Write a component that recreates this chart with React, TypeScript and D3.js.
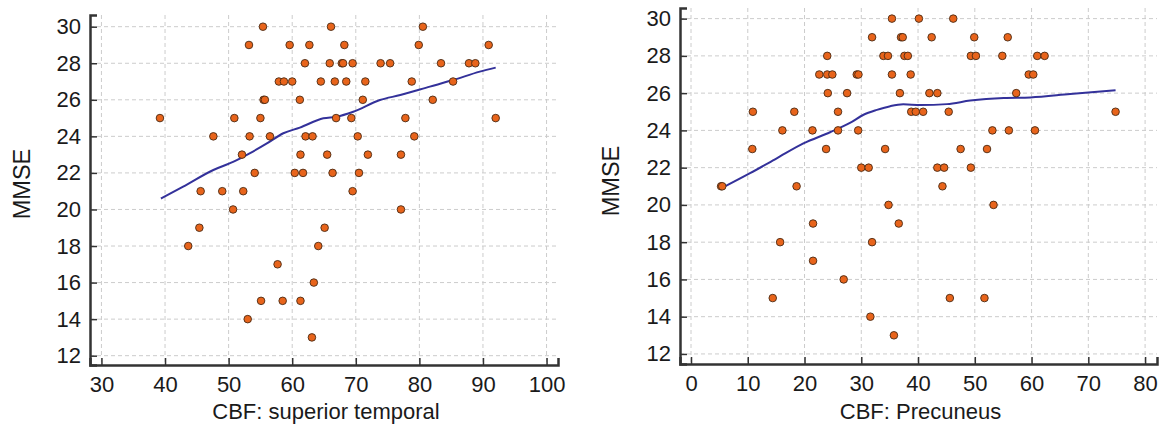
import React, { useEffect, useRef } from "react";
import * as d3 from "d3";

// superior temporal panel
const tempX = [39.2, 47.6, 45.6, 49.0, 52.3, 50.7, 50.9, 53.2, 55.4, 53.3, 52.1, 54.1, 55.0, 55.5, 55.7, 56.5, 57.9, 58.7, 60.0, 59.6, 60.4, 61.2, 61.3, 62.1, 63.2, 61.7, 62.7, 62.0, 66.1, 64.5, 65.9, 66.7, 67.8, 68.0, 68.2, 68.5, 69.5, 66.9, 69.3, 65.5, 66.35, 71.5, 71.1, 70.3, 71.9, 70.5, 69.5, 73.9, 75.4, 77.1, 77.1, 77.8, 79.2, 78.8, 79.9, 80.55, 82.1, 83.4, 85.3, 87.8, 88.8, 90.9, 92.0, 45.4, 43.65, 57.7, 55.1, 58.5, 61.3, 53.0, 65.1, 64.1, 63.4, 63.1];
const tempY = [25, 24, 21, 21, 21, 20, 25, 29, 30, 24, 23, 22, 25, 26, 26, 24, 27, 27, 27, 29, 22, 26, 23, 24, 24, 22, 29, 28, 30, 27, 28, 27, 28, 28, 29, 27, 28, 25, 25, 23, 22, 27, 26, 24, 23, 22, 21, 28, 28, 20, 23, 25, 24, 27, 29, 30, 26, 28, 27, 28, 28, 29, 25, 19, 18, 17, 15, 15, 15, 14, 19, 18, 16, 13];
const tempFitX = [39.35, 42.85, 47.6, 50.7, 53.3, 55.95, 58.6, 61.2, 64.9, 67.0, 69.6, 73.8, 77.0, 81.65, 85.3, 89.5, 92.0];
const tempFitY = [20.6, 21.25, 22.16, 22.6, 23.07, 23.6, 24.17, 24.48, 24.99, 25.08, 25.35, 25.99, 26.26, 26.72, 27.08, 27.54, 27.76];

// precuneus panel
const precX = [5.3, 5.5, 10.9, 10.8, 16.1, 18.2, 18.6, 21.4, 22.6, 24.0, 24.0, 24.9, 24.1, 23.8, 25.9, 25.9, 27.5, 29.2, 29.5, 29.45, 30.0, 31.3, 31.9, 33.9, 34.7, 34.2, 34.8, 35.4, 35.4, 40.15, 46.2, 37.0, 37.3, 42.4, 49.9, 55.8, 37.6, 38.2, 49.3, 50.2, 54.85, 61.0, 62.3, 38.7, 59.5, 60.3, 36.8, 42.0, 43.4, 57.3, 38.8, 39.6, 40.9, 45.4, 74.8, 53.1, 56.0, 60.6, 47.5, 52.15, 43.4, 44.6, 49.3, 44.3, 53.3, 21.5, 15.7, 31.9, 21.5, 26.9, 14.4, 31.6, 36.6, 45.6, 51.7, 35.75];
const precY = [21, 21, 25, 23, 24, 25, 21, 24, 27, 28, 27, 27, 26, 23, 25, 24, 26, 27, 27, 24, 22, 22, 29, 28, 28, 23, 20, 30, 27, 30, 30, 29, 29, 29, 29, 29, 28, 28, 28, 28, 28, 28, 28, 27, 27, 27, 26, 26, 26, 26, 25, 25, 25, 25, 25, 24, 24, 24, 23, 23, 22, 22, 22, 21, 20, 19, 18, 18, 17, 16, 15, 14, 19, 15, 15, 13];
const precFitX = [5.4, 10.4, 15.1, 19.8, 24.5, 28.0, 30.4, 32.75, 35.1, 37.4, 40.4, 45.1, 49.2, 55.1, 59.8, 66.8, 74.8];
const precFitY = [20.9, 21.7, 22.5, 23.3, 23.9, 24.4, 24.84, 25.1, 25.3, 25.4, 25.36, 25.41, 25.6, 25.74, 25.77, 25.95, 26.15];

const yMajor = [12, 14, 16, 18, 20, 22, 24, 26, 28, 30];
const yMinor = [13, 15, 17, 19, 21, 23, 25, 27, 29];
const tempMajor = [30, 40, 50, 60, 70, 80, 90, 100];
const tempMinor = [35, 45, 55, 65, 75, 85, 95];
const precMajor = [0, 10, 20, 30, 40, 50, 60, 70, 80];
const precMinor = [5, 15, 25, 35, 45, 55, 65, 75];

const FONT = "'Liberation Sans', Arial, sans-serif";

function drawPanel(svg, cfg) {
  const { left, right, top, bottom, xDomain, yDomain, xs, ys, fx, fy, major, minor, xLabel, yLabelX, yLabelY } = cfg;
  const x = d3.scaleLinear().domain(xDomain).range([left, right]);
  const y = d3.scaleLinear().domain(yDomain).range([bottom, top]);
  const g = svg.append("g");

  // grid
  g.append("g")
    .selectAll("line")
    .data(major)
    .join("line")
    .attr("x1", (d) => x(d))
    .attr("x2", (d) => x(d))
    .attr("y1", top)
    .attr("y2", bottom)
    .attr("stroke", "#cccccc")
    .attr("stroke-dasharray", "4,3");
  g.append("g")
    .selectAll("line")
    .data(yMajor)
    .join("line")
    .attr("x1", left)
    .attr("x2", right)
    .attr("y1", (d) => y(d))
    .attr("y2", (d) => y(d))
    .attr("stroke", "#cccccc")
    .attr("stroke-dasharray", "4,3");

  // axes, ticks pointing inward
  const xa = g.append("g").attr("transform", `translate(0,${bottom})`);
  xa.call(d3.axisBottom(x).tickValues(minor).tickSize(-4).tickFormat(() => ""));
  xa.call(d3.axisBottom(x).tickValues(major).tickSize(-7).tickPadding(11));
  const ya = g.append("g").attr("transform", `translate(${left},0)`);
  ya.call(d3.axisLeft(y).tickValues(yMinor).tickSize(-4).tickFormat(() => ""));
  ya.call(d3.axisLeft(y).tickValues(yMajor).tickSize(-7).tickPadding(9));
  g.selectAll(".domain").attr("stroke", "#333").attr("stroke-width", 2.5);
  g.selectAll(".tick line").attr("stroke", "#333").attr("stroke-width", 1.5);
  g.selectAll(".tick text")
    .attr("font-family", FONT)
    .attr("font-size", 22)
    .attr("fill", "#1a1a1a");

  // fit line
  const line = d3
    .line()
    .x((d) => x(d[0]))
    .y((d) => y(d[1]))
    .curve(d3.curveMonotoneX);
  g.append("path")
    .datum(fx.map((v, i) => [v, fy[i]]))
    .attr("d", line)
    .attr("fill", "none")
    .attr("stroke", "#33319a")
    .attr("stroke-width", 2);

  // points
  g.append("g")
    .selectAll("circle")
    .data(xs.map((v, i) => [v, ys[i]]))
    .join("circle")
    .attr("cx", (d) => x(d[0]))
    .attr("cy", (d) => y(d[1]))
    .attr("r", 3.8)
    .attr("fill", "#e8641b")
    .attr("stroke", "#4a2a14")
    .attr("stroke-width", 0.9);

  g.append("text")
    .attr("x", (left + right) / 2 + 2)
    .attr("y", 419)
    .attr("text-anchor", "middle")
    .attr("font-family", FONT)
    .attr("font-size", 22)
    .attr("fill", "#1a1a1a")
    .text(xLabel);
  g.append("text")
    .attr("transform", `translate(${yLabelX},${yLabelY}) rotate(-90)`)
    .attr("text-anchor", "middle")
    .attr("font-family", FONT)
    .attr("font-size", 23.5)
    .attr("fill", "#1a1a1a")
    .text("MMSE");
}

const App = () => {
  const ref = useRef(null);

  useEffect(() => {
    const svg = d3.select(ref.current);
    svg.selectAll("*").remove();
    drawPanel(svg, {
      left: 90, right: 558, top: 15, bottom: 365,
      xDomain: [28.2, 101.8], yDomain: [11.49, 30.64],
      xs: tempX, ys: tempY, fx: tempFitX, fy: tempFitY,
      major: tempMajor, minor: tempMinor,
      xLabel: "CBF: superior temporal", yLabelX: 30, yLabelY: 184,
    });
    drawPanel(svg, {
      left: 680, right: 1157, top: 8, bottom: 364,
      xDomain: [-1.94, 82.1], yDomain: [11.46, 30.57],
      xs: precX, ys: precY, fx: precFitX, fy: precFitY,
      major: precMajor, minor: precMinor,
      xLabel: "CBF: Precuneus", yLabelX: 619, yLabelY: 181,
    });
  }, []);

  return (
    <svg
      ref={ref}
      width={1161}
      height={425}
      style={{ position: "absolute", left: 0, top: 0, background: "#fff" }}
    ></svg>
  );
};

export default App;
